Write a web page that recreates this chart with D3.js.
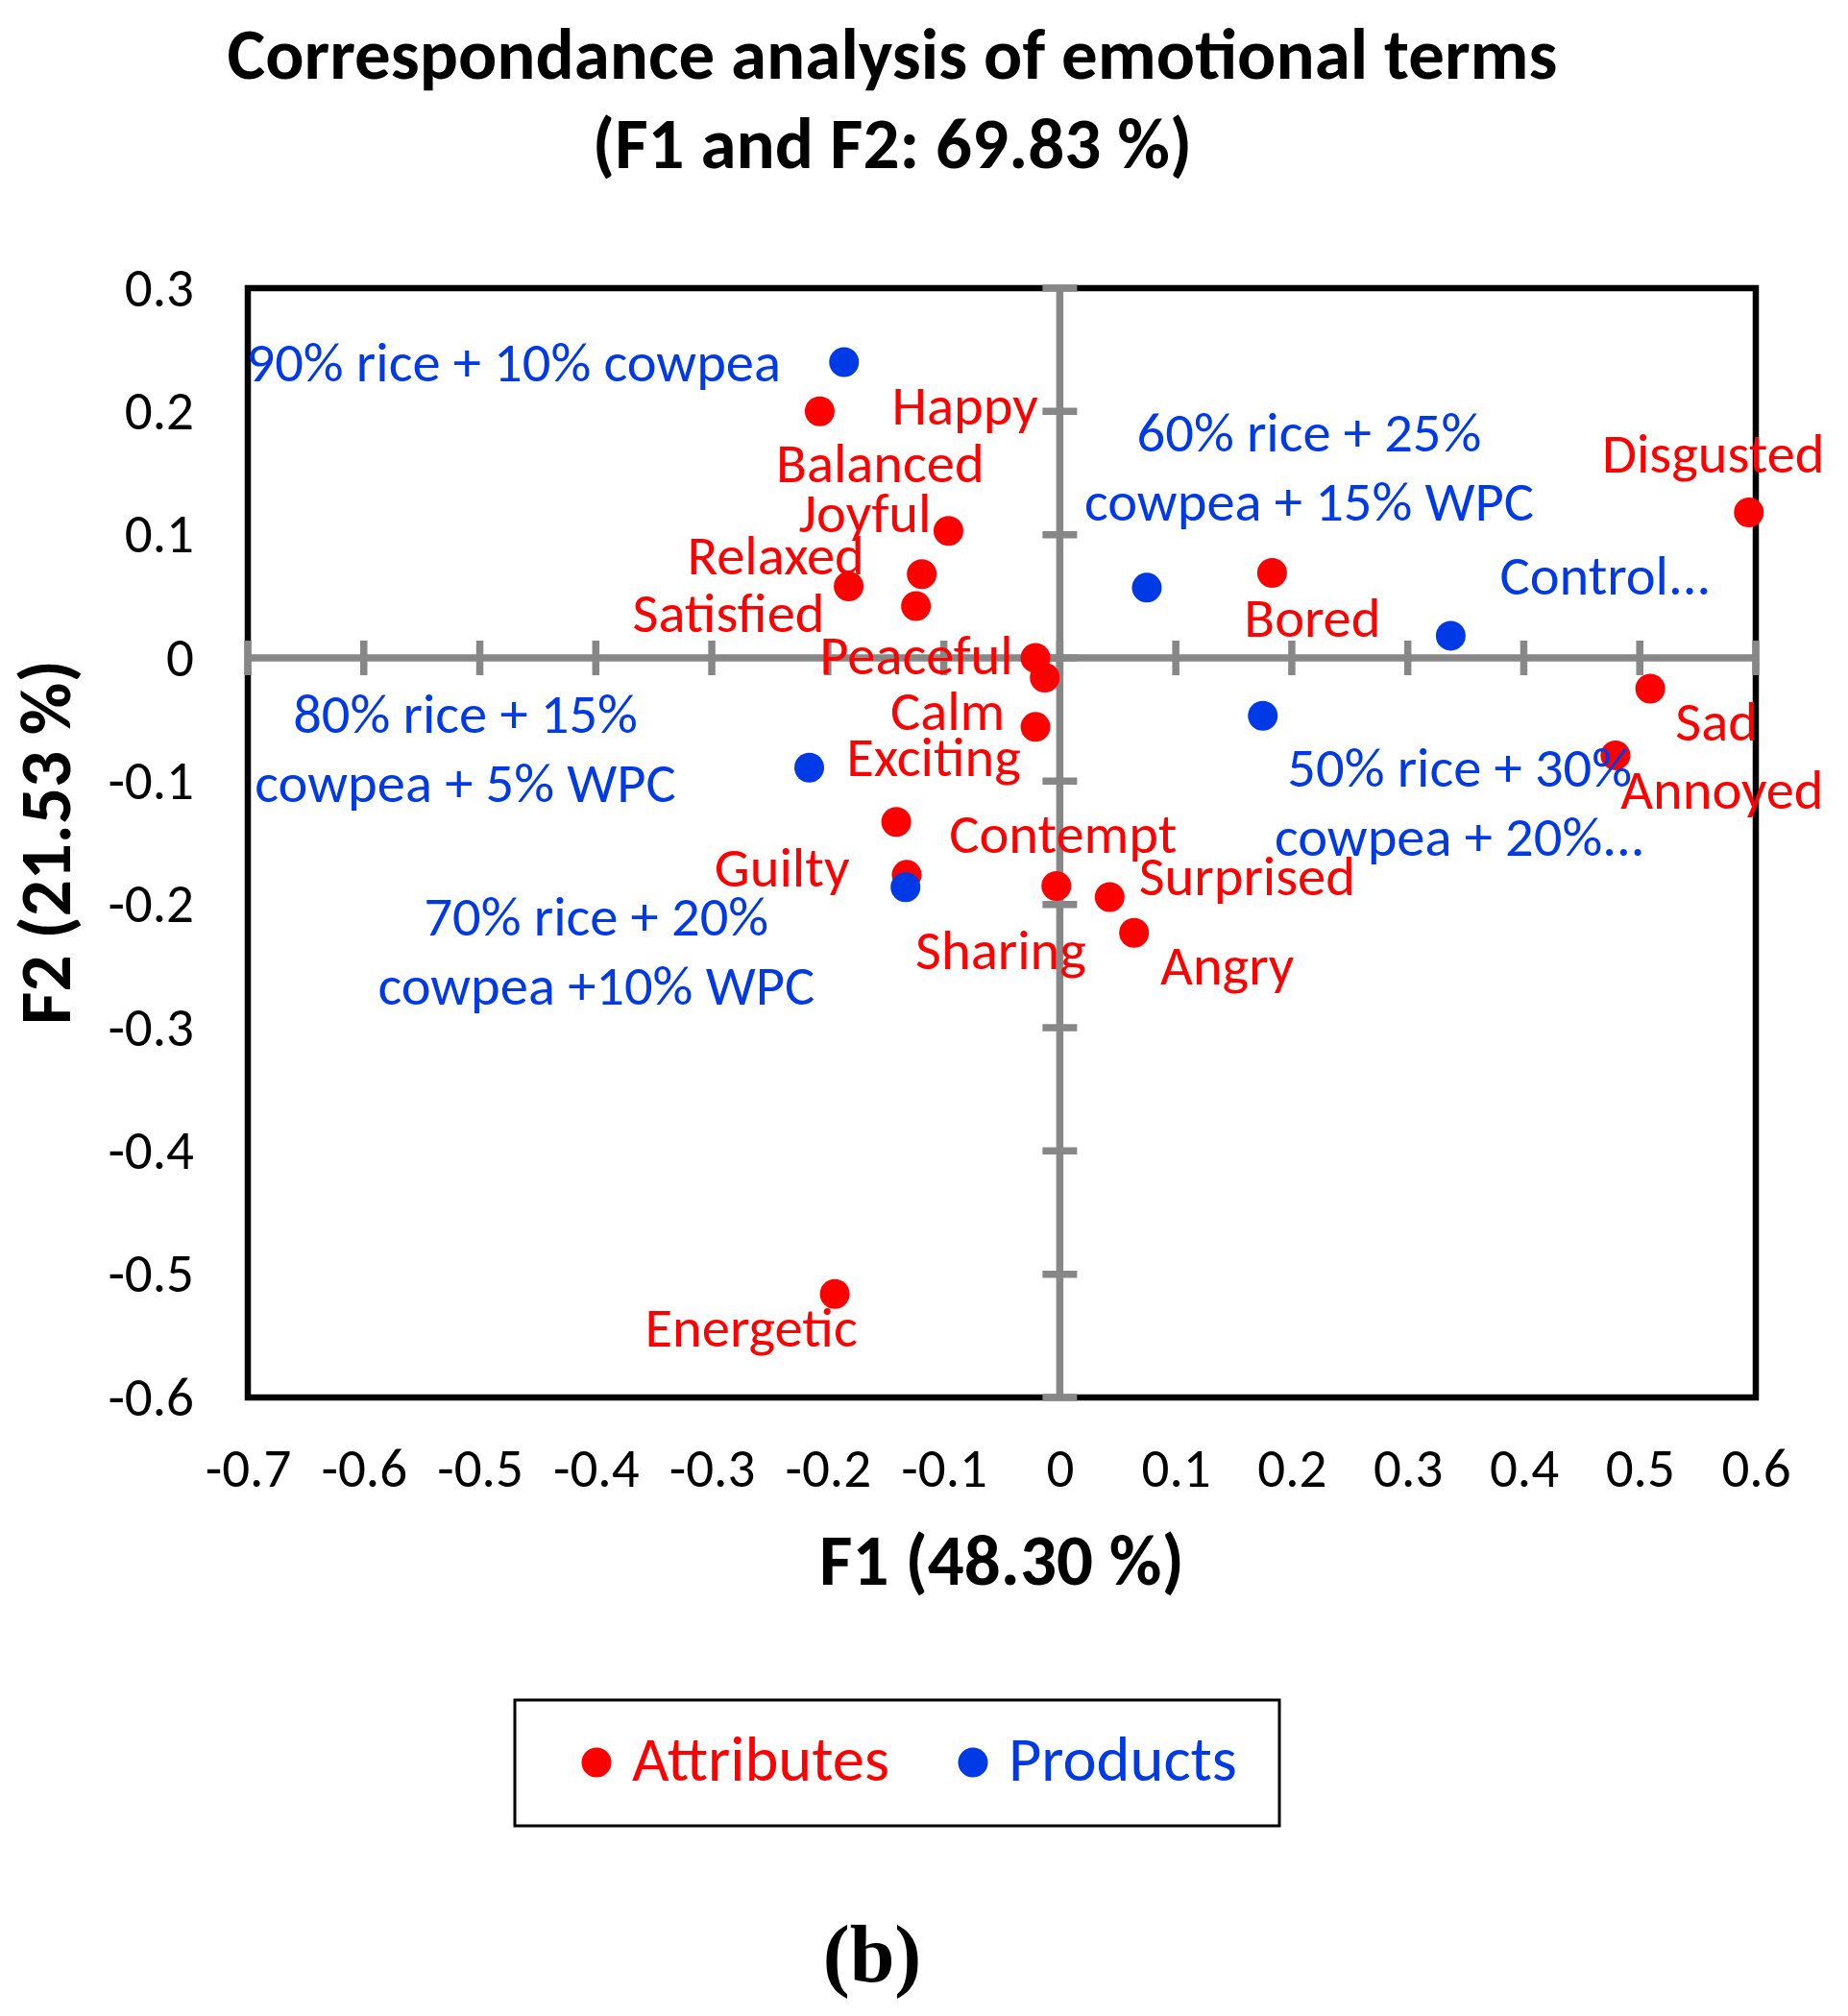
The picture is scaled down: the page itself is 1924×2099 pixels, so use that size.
<!DOCTYPE html>
<html>
<head>
<meta charset="utf-8">
<script src="https://cdn.jsdelivr.net/npm/d3@7"></script>
<style>
  body { margin: 0; background: #fff; }
  svg { display: block; }
  text { font-family: Carlito, Lato, sans-serif; }
</style>
</head>
<body>
<svg id="chart" width="1924" height="2099"></svg>
<script>
// values (F1, F2 coordinates)
const attributeNames = ['Happy','Balanced','Joyful','Relaxed','Satisfied','Peaceful','Calm','Exciting',
  'Guilty','Sharing','Contempt','Surprised','Angry','Bored','Disgusted','Sad','Annoyed','Energetic'];
const attributeF1 = [-0.124,-0.207,-0.096,-0.119,-0.182,-0.021,-0.013,-0.021,
  -0.141,-0.132,-0.003,0.043,0.064,0.183,0.594,0.509,0.479,-0.194];
const attributeF2 = [0.042,0.200,0.103,0.068,0.058,0.000,-0.016,-0.056,
  -0.133,-0.176,-0.185,-0.194,-0.223,0.069,0.118,-0.025,-0.079,-0.516];

const productNames = [
  ['90% rice + 10% cowpea'],
  ['60% rice + 25%','cowpea + 15% WPC'],
  ['Control...'],
  ['50% rice + 30%','cowpea + 20%...'],
  ['80% rice + 15%','cowpea + 5% WPC'],
  ['70% rice + 20%','cowpea +10% WPC']
];
const productF1 = [-0.186,0.075,0.337,0.175,-0.216,-0.133];
const productF2 = [0.240,0.057,0.018,-0.047,-0.089,-0.186];

const xTickValues = [-0.7,-0.6,-0.5,-0.4,-0.3,-0.2,-0.1,0,0.1,0.2,0.3,0.4,0.5,0.6];
const yTickValues = [0.3,0.2,0.1,0,-0.1,-0.2,-0.3,-0.4,-0.5,-0.6];

const titleLines = ['Correspondance analysis of emotional terms','(F1 and F2: 69.83 %)'];
const xTitle = 'F1 (48.30 %)';
const yTitle = 'F2 (21.53 %)';
const legendNames = ['Attributes','Products'];

// label placement, pixel offsets of label centre/baseline from the point
const attributeLabelOffset = [[51,-189],[63,74],[-87,1],[-152,0],[-125,47],[-124,17],[-101,54],[-106,51],
  [-119,67],[98,98],[7,-34],[143,-2],[97,54],[42,67],[-37,-42],[69,54],[111,56],[-87,55]];
const productLabelOffset = [[-344,20],[169,-142],[161,-43],[205,74],[-358,-36],[-322,50]];

const red = '#ff0000', blue = '#0039e6', grey = '#878787';
const labelSize = 58.5, tickSize = 57, titleSize = 75, legendSize = 66.5;
const lineGap = 72;

const svg = d3.select('#chart');
svg.append('rect').attr('width', 1924).attr('height', 2099).attr('fill', '#fff');

const x = d3.scaleLinear().domain([-0.7, 0.6]).range([258, 1828]);
const y = d3.scaleLinear().domain([-0.6, 0.3]).range([1455, 300]);

// title
svg.append('g').selectAll('text').data(titleLines).join('text')
  .attr('x', 929).attr('y', (d, i) => 82 + i * 93)
  .attr('text-anchor', 'middle').attr('font-weight', 'bold')
  .attr('font-size', titleSize).text(d => d);

// frame
svg.append('rect')
  .attr('x', x(-0.7)).attr('y', y(0.3))
  .attr('width', x(0.6) - x(-0.7)).attr('height', y(-0.6) - y(0.3))
  .attr('fill', 'none').attr('stroke', '#000').attr('stroke-width', 6.5);

// centre axes with cross ticks
const axes = svg.append('g').attr('stroke', grey).attr('stroke-width', 7.5);
axes.append('line').attr('x1', x(-0.7)).attr('x2', x(0.6)).attr('y1', y(0)).attr('y2', y(0));
axes.append('line').attr('x1', x(0)).attr('x2', x(0)).attr('y1', y(0.3)).attr('y2', y(-0.6));
axes.selectAll('.xt').data(xTickValues).join('line').attr('class', 'xt')
  .attr('x1', d => x(d)).attr('x2', d => x(d)).attr('y1', y(0) - 18).attr('y2', y(0) + 18);
axes.selectAll('.yt').data(yTickValues).join('line').attr('class', 'yt')
  .attr('y1', d => y(d)).attr('y2', d => y(d)).attr('x1', x(0) - 18).attr('x2', x(0) + 18);

// tick labels along the frame
const fmt = d => d === 0 ? '0' : String(d);
const xAxis = d3.axisBottom(x).tickValues(xTickValues).tickFormat(fmt).tickSize(0).tickPadding(0);
const gx = svg.append('g').attr('transform', 'translate(0,1548)').call(xAxis);
gx.select('.domain').remove();
gx.selectAll('text').attr('dy', 0).attr('y', 0).attr('font-size', tickSize)
  .attr('fill', '#000').attr('font-family', null);

const yAxis = d3.axisLeft(y).tickValues(yTickValues).tickFormat(fmt).tickSize(0).tickPadding(0);
const gy = svg.append('g').attr('transform', 'translate(202,0)').call(yAxis);
gy.select('.domain').remove();
gy.selectAll('text').attr('dy', 18).attr('x', 0).attr('font-size', tickSize)
  .attr('fill', '#000').attr('font-family', null);

// axis titles
svg.append('text').attr('x', 1043).attr('y', 1650).attr('text-anchor', 'middle')
  .attr('font-weight', 'bold').attr('font-size', titleSize).text(xTitle);
svg.append('text').attr('transform', 'translate(73,877) rotate(-90)').attr('text-anchor', 'middle')
  .attr('font-weight', 'bold').attr('font-size', titleSize).text(yTitle);

// points
const r = 15.5;
svg.append('g').selectAll('circle').data(attributeNames).join('circle')
  .attr('cx', (d, i) => x(attributeF1[i])).attr('cy', (d, i) => y(attributeF2[i]))
  .attr('r', r).attr('fill', red);
svg.append('g').selectAll('circle').data(productNames).join('circle')
  .attr('cx', (d, i) => x(productF1[i])).attr('cy', (d, i) => y(productF2[i]))
  .attr('r', r).attr('fill', blue);

// labels
svg.append('g').selectAll('text').data(attributeNames).join('text')
  .attr('x', (d, i) => x(attributeF1[i]) + attributeLabelOffset[i][0])
  .attr('y', (d, i) => y(attributeF2[i]) + attributeLabelOffset[i][1])
  .attr('text-anchor', 'middle').attr('font-size', labelSize).attr('fill', red)
  .text(d => d);

const pl = svg.append('g').selectAll('text').data(productNames).join('text')
  .attr('text-anchor', 'middle').attr('font-size', labelSize).attr('fill', blue);
pl.each(function(lines, i) {
  const px = x(productF1[i]) + productLabelOffset[i][0];
  const py = y(productF2[i]) + productLabelOffset[i][1];
  d3.select(this).selectAll('tspan').data(lines).join('tspan')
    .attr('x', px).attr('y', (d, j) => py + j * lineGap).text(d => d);
});

// legend
svg.append('rect').attr('x', 536).attr('y', 1770).attr('width', 796).attr('height', 131)
  .attr('fill', 'none').attr('stroke', '#000').attr('stroke-width', 3);
const legendX = [621, 1013], legendColor = [red, blue];
const lg = svg.append('g').selectAll('g').data(legendNames).join('g')
  .attr('transform', (d, i) => `translate(${legendX[i]},1835)`);
lg.append('circle').attr('r', r).attr('fill', (d, i) => legendColor[i]);
lg.append('text').attr('x', 37).attr('y', 19).attr('font-size', legendSize)
  .attr('fill', (d, i) => legendColor[i]).text(d => d);

// panel letter
svg.append('text').attr('x', 908).attr('y', 2063).attr('text-anchor', 'middle')
  .style('font-family', '"Liberation Serif", "DejaVu Serif", serif').attr('font-weight', 'bold')
  .attr('font-size', 84).text('(b)');
</script>
</body>
</html>
